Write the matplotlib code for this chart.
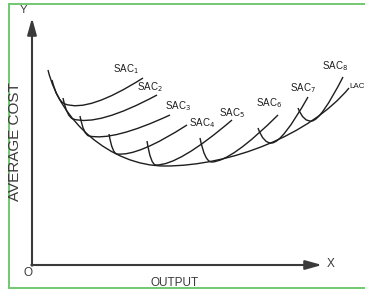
import numpy as np
import matplotlib.pyplot as plt
from matplotlib.path import Path
from matplotlib.patches import PathPatch

# -----------------------------
# curve data (output, cost) - origin at the axes corner
# -----------------------------
# LAC: two cubic bezier pieces (start, ctrl, ctrl, join, ctrl, ctrl, end)
lac_x = [16, 28, 78, 133, 198, 278, 317]
lac_y = [195, 145, 99, 99, 99, 130, 177]

# SAC curves: top of the left branch, low point near LAC, right end
sac_top_x = [20, 31, 48, 77, 115, 168, 226, 266]
sac_top_y = [185, 167, 149, 131, 124, 127, 137, 157]
sac_low_x = [33, 41, 57, 85, 124, 180, 240, 280]
sac_low_y = [161, 146, 129, 111, 100, 103, 122, 144]
sac_end_x = [111, 125, 138, 155, 200, 246, 276, 311]
sac_end_y = [187, 170, 150, 140, 145, 150, 168, 188]

sac_names = ["SAC$_1$", "SAC$_2$", "SAC$_3$", "SAC$_4$",
             "SAC$_5$", "SAC$_6$", "SAC$_7$", "SAC$_8$"]
label_x = [94, 118, 146, 170, 200, 237, 271, 303]
label_y = [196, 178, 159, 142, 152, 162, 177, 199]

INK = "#1e1e1e"
AXIS = "#3a3a3a"
GREEN = "#72c872"

plt.rcParams['font.family'] = ['Liberation Sans', 'DejaVu Sans']

fig = plt.figure(figsize=(3.65, 2.93), dpi=100)
ax = fig.add_axes([0, 0, 1, 1])
ax.set_xlim(-32, 333)
ax.set_ylim(-28, 265)
ax.axis('off')


def bezier(p, t):
    p = np.asarray(p, float)
    return ((1 - t)**3)[:, None]*p[0] + (3*(1 - t)**2*t)[:, None]*p[1] \
        + (3*(1 - t)*t**2)[:, None]*p[2] + (t**3)[:, None]*p[3]


# LAC
pts = list(zip(lac_x, lac_y))
codes = [Path.MOVETO] + [Path.CURVE4]*6
ax.add_patch(PathPatch(Path(pts, codes), fill=False, ec=INK, lw=1.0))

# LAC slope, used to tilt each SAC at its low point
t = np.linspace(0, 1, 200)
dense = np.vstack([bezier(pts[0:4], t), bezier(pts[3:7], t)])
slope = np.gradient(dense[:, 1], dense[:, 0])

for i in range(len(sac_names)):
    T = np.array([sac_top_x[i], sac_top_y[i]], float)
    B = np.array([sac_low_x[i], sac_low_y[i]], float)
    E = np.array([sac_end_x[i], sac_end_y[i]], float)
    m = np.interp(B[0], dense[:, 0], slope)
    d = np.array([1.0, 0.25*m])
    c1 = B - 0.6*(B[0] - T[0])*d
    c2 = B + 0.3*(E[0] - B[0])*d
    path = Path([T, c1, B, c2, E],
                [Path.MOVETO, Path.CURVE3, Path.CURVE3, Path.CURVE3, Path.CURVE3])
    ax.add_patch(PathPatch(path, fill=False, ec=INK, lw=1.0))
    ax.text(label_x[i], label_y[i], sac_names[i], fontsize=7, color=INK,
            ha='center', va='center')

ax.text(332.5, 178, "LAC", fontsize=5.8, color=INK, ha='right', va='center')

# axes with arrows
arr = dict(arrowstyle='-|>,head_length=1.0,head_width=0.28', lw=1.5,
           color=AXIS, shrinkA=0, shrinkB=0, mutation_scale=10)
ax.annotate('', xy=(0, 247), xytext=(0, -0.7), arrowprops=arr)
ax.annotate('', xy=(290, 0), xytext=(-0.7, 0), arrowprops=arr)

ax.text(-9, 255, "Y", fontsize=8, color=AXIS, ha='center', va='center')
ax.text(299, 1, "X", fontsize=8.5, color=AXIS, ha='center', va='center')
ax.text(-4, -8, "O", fontsize=8.5, color=AXIS, ha='center', va='center')
ax.text(143, -18, "OUTPUT", fontsize=8.5, color=AXIS, ha='center', va='center')
ax.text(-17, 123, "AVERAGE COST", fontsize=11, color=AXIS, rotation=90,
        ha='center', va='center')

# green frame
ax.plot([-23, 340], [261, 261], color=GREEN, lw=1.4, clip_on=False)
ax.plot([-23, -23], [261, -23], color=GREEN, lw=1.4, clip_on=False)
ax.plot([-23, 340], [-23, -23], color=GREEN, lw=1.4, clip_on=False)

fig.savefig("out.png", dpi=100, facecolor='white')
